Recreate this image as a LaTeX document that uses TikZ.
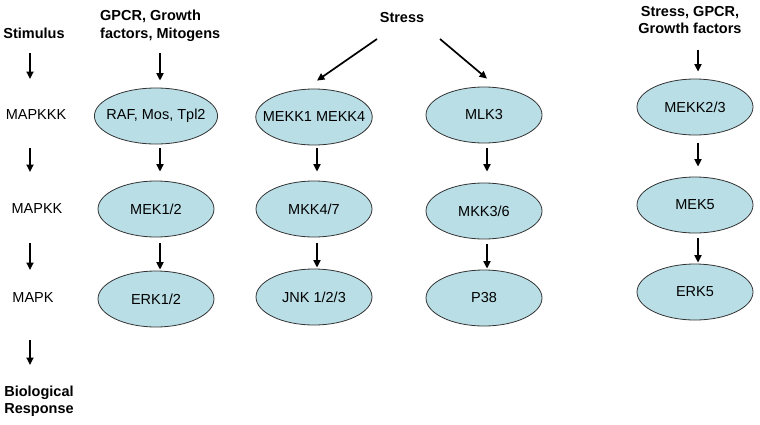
\documentclass[tikz,border=0pt]{standalone}
\usepackage{fontspec}
\setmainfont{Liberation Sans}
\usetikzlibrary{shapes.geometric,arrows.meta,calc}
\definecolor{cellblue}{RGB}{185,222,230}
\begin{document}
\begin{tikzpicture}[x=1pt,y=-1pt,
  txt/.style={font=\fontsize{14.5}{17.5}\selectfont, inner sep=0pt},
  btxt/.style={font=\fontsize{14.5}{17.5}\selectfont\bfseries, inner sep=0pt},
  kin/.style={ellipse, draw=black!80, line width=0.8pt, fill=cellblue, minimum width=116pt, minimum height=56pt, inner sep=0pt, font=\fontsize{14.5}{17.5}\selectfont},
  arr/.style={line width=1.7pt, -{Triangle[length=7.5pt,width=7pt]}}]
\path[use as bounding box] (0,0) rectangle (760,424);
% left legend
\node[btxt] (stim) at (34,33) {Stimulus};
\node[txt] (l3) at (36,115) {MAPKKK};
\node[txt] (l2) at (37,209) {MAPKK};
\node[txt] (l1) at (33,298) {MAPK};
\node[btxt, align=left] (bio) at (39,401) {Biological\\Response};
\draw[arr] ($(stim)+(-4,20)$) -- ($(l3)+(-6,-36)$);
\draw[arr] ($(l3)+(-6,33)$) -- ($(l2)+(-7,-37)$);
\draw[arr] ($(l2)+(-7,34)$) -- ($(l1)+(-3,-28)$);
\draw[arr] ($(l1)+(-3,42)$) -- ($(bio)+(-9,-36)$);
% column 1
\node[btxt, align=left, anchor=west] (in1) at (100,26) {GPCR, Growth\\factors, Mitogens};
\node[kin, inner xsep=-6pt] (raf) at (156,116) {RAF, Mos, Tpl2};
\node[kin] (mek12) at (156,209) {MEK1/2};
\node[kin] (erk12) at (156,299) {ERK1/2};
\draw[arr] ($(in1.west)+(60,27)$) -- ($(raf.north)+(4,-7)$);
\draw[arr] ($(raf.south)+(4,4)$) -- ($(mek12.north)+(4,-9)$);
\draw[arr] ($(mek12.south)+(4,6)$) -- ($(erk12.north)+(4,-1)$);
% stress columns
\node[btxt] (stress) at (402,18) {Stress};
\node[kin, inner xsep=-10pt] (mekk14) at (314,117) {MEKK1 MEKK4};
\node[kin] (mkk47) at (314,209) {MKK4/7};
\node[kin] (jnk) at (314,297) {JNK 1/2/3};
\node[kin] (mlk3) at (484,115) {MLK3};
\node[kin] (mkk36) at (484,211) {MKK3/6};
\node[kin] (p38) at (484,298) {P38};
\draw[arr] ($(stress)+(-25,21)$) -- ($(mekk14.north)+(3,-8)$);
\draw[arr] ($(stress)+(38,21)$) -- ($(mlk3.north)+(3,-8)$);
\draw[arr] ($(mekk14.south)+(3,3)$) -- ($(mkk47.north)+(3,-9)$);
\draw[arr] ($(mkk47.south)+(3,6)$) -- ($(jnk.north)+(3,-1)$);
\draw[arr] ($(mlk3.south)+(3,5)$) -- ($(mkk36.north)+(3,-11)$);
\draw[arr] ($(mkk36.south)+(3,5)$) -- ($(p38.north)+(3,-1)$);
% column 4
\node[btxt, align=center] (in4) at (690,20) {Stress, GPCR,\\Growth factors};
\node[kin] (mekk23) at (695,107) {MEKK2/3};
\node[kin] (mek5) at (695,205) {MEK5};
\node[kin] (erk5) at (695,292) {ERK5};
\draw[arr] ($(in4)+(8,30)$) -- ($(mekk23.north)+(3,-7)$);
\draw[arr] ($(mekk23.south)+(3,8)$) -- ($(mek5.north)+(3,-10)$);
\draw[arr] ($(mek5.south)+(3,5)$) -- ($(erk5.north)+(3,-1)$);
\end{tikzpicture}
\end{document}
